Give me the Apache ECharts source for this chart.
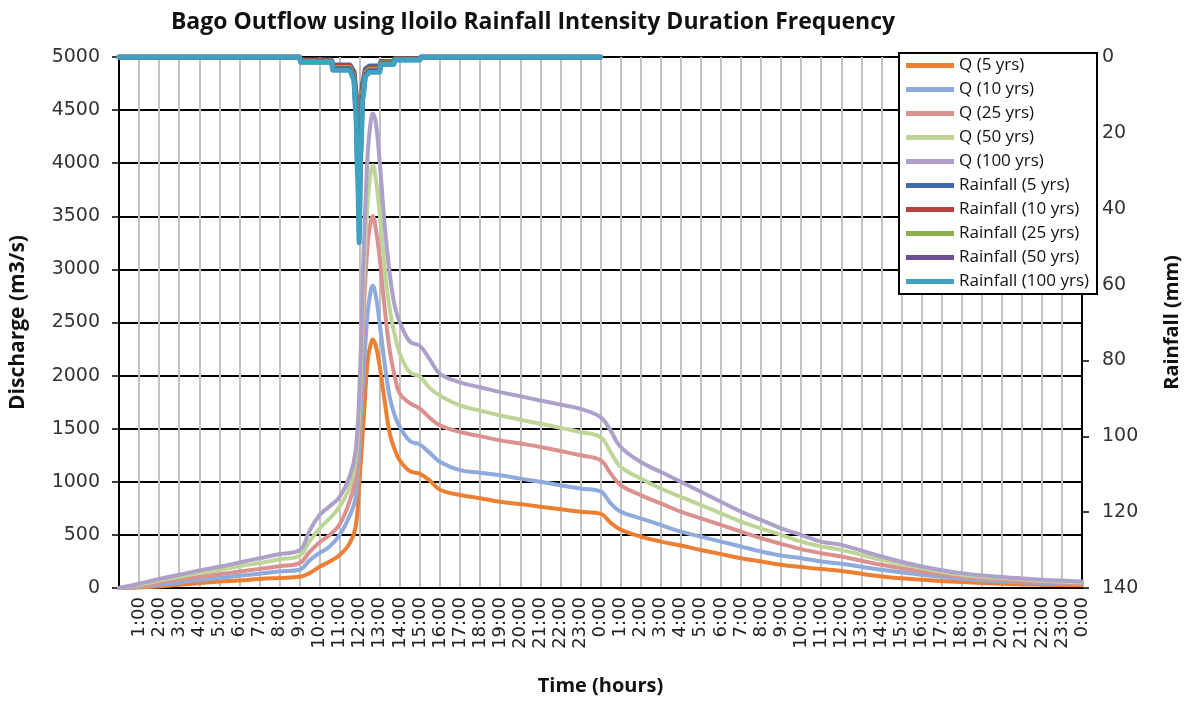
<!DOCTYPE html>
<html>
<head>
<meta charset="utf-8">
<script src="https://cdn.jsdelivr.net/npm/echarts@6/dist/echarts.min.js"></script>
<style>
  html, body { margin: 0; padding: 0; background: #ffffff; }
  #chart { width: 1190px; height: 701px; }
</style>
</head>
<body>
<div id="chart"></div>
<script>
// Hour tick labels across the two-day window (hour 0 is left unlabelled)
const timeLabels = [
  '', '1:00', '2:00', '3:00', '4:00', '5:00', '6:00', '7:00', '8:00', '9:00', '10:00', '11:00', '12:00',
  '13:00', '14:00', '15:00', '16:00', '17:00', '18:00', '19:00', '20:00', '21:00', '22:00', '23:00', '0:00',
  '1:00', '2:00', '3:00', '4:00', '5:00', '6:00', '7:00', '8:00', '9:00', '10:00', '11:00', '12:00',
  '13:00', '14:00', '15:00', '16:00', '17:00', '18:00', '19:00', '20:00', '21:00', '22:00', '23:00', '0:00'
];

// Elapsed hours of the discharge hydrograph samples
const qHours = [0, 1, 2, 3, 4, 5, 6, 7, 8, 9, 9.5, 10, 10.5, 11, 11.5, 11.8, 12, 12.2, 12.4, 12.55, 12.65, 12.8,
  13, 13.25, 13.5, 13.75, 14, 14.5, 15, 15.5, 16, 17, 18, 19, 20, 21, 22, 23, 24, 24.5, 25, 26, 27, 28, 29, 30,
  31, 32, 33, 34, 35, 36, 38, 40, 42, 44, 46, 48];

// Discharge (m3/s) per return period
const q5 = [0, 5, 15, 30, 45, 60, 70, 85, 95, 105, 140, 200, 250, 310, 420, 580, 1050, 1600, 2150, 2300, 2340, 2280,
  2080, 1750, 1450, 1300, 1200, 1100, 1075, 1010, 925, 875, 845, 812, 790, 766, 742, 719, 700, 615, 550, 484, 437, 400, 358, 319,
  281, 250, 219, 197, 178, 160, 109, 78, 56, 40, 31, 25];
const q10 = [0, 10, 30, 50, 75, 95, 115, 135, 155, 172, 260, 330, 390, 500, 680, 860, 1400, 2050, 2600, 2800, 2845, 2750,
  2480, 2100, 1790, 1620, 1516, 1385, 1350, 1270, 1187, 1110, 1085, 1062, 1030, 1000, 968, 937, 910, 800, 719, 656, 594, 531, 484, 437,
  391, 344, 306, 281, 250, 228, 172, 125, 87, 62, 47, 37];
const q25 = [0, 20, 50, 80, 105, 130, 155, 180, 205, 234, 340, 430, 500, 600, 820, 1050, 1650, 2600, 3250, 3450, 3500, 3380,
  3100, 2620, 2230, 1990, 1828, 1740, 1690, 1600, 1531, 1469, 1430, 1390, 1360, 1328, 1290, 1250, 1203, 1080, 969, 875, 797, 719, 656, 594,
  531, 469, 416, 366, 328, 297, 219, 156, 109, 78, 56, 47];
const q50 = [0, 30, 70, 105, 140, 170, 205, 235, 270, 303, 440, 560, 656, 766, 953, 1200, 1790, 2900, 3650, 3920, 3980, 3850,
  3520, 3000, 2620, 2380, 2203, 2030, 1990, 1880, 1812, 1719, 1670, 1625, 1585, 1547, 1508, 1469, 1420, 1281, 1141, 1031, 937, 859, 781, 703,
  625, 562, 500, 437, 391, 359, 265, 187, 125, 94, 69, 53];
const q100 = [0, 40, 85, 125, 165, 200, 240, 280, 320, 355, 540, 687, 770, 859, 1050, 1300, 1957, 3200, 4100, 4400, 4467, 4380,
  4000, 3400, 2950, 2650, 2500, 2320, 2280, 2150, 2016, 1937, 1890, 1844, 1805, 1766, 1727, 1687, 1609, 1484, 1328, 1187, 1094, 1000, 906, 812,
  719, 641, 562, 500, 437, 406, 297, 203, 140, 103, 78, 62];

// Elapsed hours of the rainfall hyetograph samples
const rainHours = [0, 9, 9.05, 10.6, 10.65, 11.5, 11.7, 11.8, 11.9, 11.97, 12.05, 12.15, 12.3, 12.5, 13, 13.05, 13.7, 13.75, 15, 15.05, 24];

// Rainfall (mm) per return period
const rain5 = [0, 0, 0.8, 0.8, 2.1, 2.1, 3.6, 8.4, 19, 29, 15.6, 6.6, 3, 2.4, 2.4, 1.2, 1.2, 0.5, 0.5, 0, 0];
const rain10 = [0, 0, 1, 1, 2.4, 2.4, 4.2, 9.8, 22, 34, 18, 7.7, 3.5, 2.8, 2.8, 1.4, 1.4, 0.5, 0.5, 0, 0];
const rain25 = [0, 0, 1.1, 1.1, 2.8, 2.8, 4.8, 11, 25.6, 38, 21, 8.8, 4, 3.2, 3.2, 1.6, 1.6, 0.6, 0.6, 0, 0];
const rain50 = [0, 0, 1.3, 1.3, 3.1, 3.1, 5.4, 12.6, 28.8, 43, 23.4, 9.9, 4.5, 3.6, 3.6, 1.8, 1.8, 0.7, 0.7, 0, 0];
const rain100 = [0, 0, 1.4, 1.4, 3.5, 3.5, 6, 14, 32, 49, 26, 11, 5, 4, 4, 2, 2, 0.8, 0.8, 0, 0];

const qNames = ['Q (5 yrs)', 'Q (10 yrs)', 'Q (25 yrs)', 'Q (50 yrs)', 'Q (100 yrs)'];
const rainNames = ['Rainfall (5 yrs)', 'Rainfall (10 yrs)', 'Rainfall (25 yrs)', 'Rainfall (50 yrs)', 'Rainfall (100 yrs)'];
const qColors = ['#EC7F32', '#8FAADC', '#DB918F', '#BDD597', '#ADA0C9'];
const rainColors = ['#3F6BAE', '#B5423E', '#8CB04A', '#6B4F96', '#3EA2C0'];

const pair = (xs, ys) => xs.map((x, i) => [x, ys[i]]);

const qSeries = [q5, q10, q25, q50, q100].map((vals, i) => ({
  name: qNames[i],
  type: 'line',
  yAxisIndex: 0,
  data: pair(qHours, vals),
  showSymbol: false,
  symbol: 'none',
  smooth: 0.4,
  lineStyle: { color: qColors[i], width: 4, cap: 'round', join: 'round' },
  itemStyle: { color: qColors[i] },
  z: 2
}));

const rainSeries = [rain5, rain10, rain25, rain50, rain100].map((vals, i) => ({
  name: rainNames[i],
  type: 'line',
  yAxisIndex: 1,
  data: pair(rainHours, vals),
  showSymbol: false,
  symbol: 'none',
  smooth: 0.3,
  smoothMonotone: 'x',
  lineStyle: { color: rainColors[i], width: 5, cap: 'round', join: 'round' },
  itemStyle: { color: rainColors[i] },
  z: 3
}));

const plainNumber = (v) => String(v);

const chart = echarts.init(document.getElementById('chart'), null, { renderer: 'canvas' });

chart.setOption({
  animation: false,
  backgroundColor: '#ffffff',
  title: {
    text: 'Bago Outflow using Iloilo Rainfall Intensity Duration Frequency',
    left: 528,
    top: 6,
    textAlign: 'center',
    textStyle: { fontFamily: 'Open Sans', fontWeight: 'bold', fontSize: 23, color: '#111' }
  },
  legend: {
    orient: 'vertical',
    right: 93,
    top: 53,
    backgroundColor: '#ffffff',
    borderColor: '#000000',
    borderWidth: 2,
    padding: [4, 8, 4, 7],
    icon: 'rect',
    itemWidth: 48,
    itemHeight: 5,
    itemGap: 7,
    textStyle: { fontFamily: 'Open Sans', fontSize: 17, color: '#111' },
    data: qNames.concat(rainNames)
  },
  grid: { left: 115, right: 93, top: 57, bottom: 113, containLabel: false },
  xAxis: {
    type: 'value',
    min: 0,
    max: 48,
    interval: 1,
    name: 'Time (hours)',
    nameLocation: 'middle',
    nameGap: 88,
    nameTextStyle: { fontFamily: 'Open Sans', fontWeight: 'bold', fontSize: 20, color: '#111' },
    axisLine: { show: true, lineStyle: { color: '#000', width: 2 } },
    axisTick: { show: false },
    axisLabel: {
      rotate: 90,
      margin: 9,
      fontFamily: 'DejaVu Sans',
      fontSize: 18,
      color: '#222',
      showMinLabel: true,
      showMaxLabel: true,
      formatter: (v) => timeLabels[Math.round(v)]
    },
    splitLine: { show: true, lineStyle: { color: '#C2C2C2', width: 2 } }
  },
  yAxis: [
    {
      type: 'value',
      min: 0,
      max: 5000,
      interval: 500,
      name: 'Discharge (m3/s)',
      nameLocation: 'middle',
      nameRotate: 90,
      nameGap: 90,
      nameTextStyle: { fontFamily: 'Open Sans', fontWeight: 'bold', fontSize: 21, color: '#111' },
      axisLine: { show: true, lineStyle: { color: '#000', width: 2 } },
      axisTick: { show: true, inside: false, length: 7, lineStyle: { color: '#000', width: 1.5 } },
      axisLabel: { margin: 19, fontFamily: 'DejaVu Sans', fontSize: 19, color: '#333', formatter: plainNumber },
      splitLine: { show: true, lineStyle: { color: '#000', width: 2 } }
    },
    {
      type: 'value',
      min: 0,
      max: 140,
      interval: 20,
      inverse: true,
      position: 'right',
      name: 'Rainfall (mm)',
      nameLocation: 'middle',
      nameRotate: 90,
      nameGap: 80,
      nameTextStyle: { fontFamily: 'Open Sans', fontWeight: 'bold', fontSize: 20, color: '#111' },
      axisLine: { show: true, lineStyle: { color: '#000', width: 2 } },
      axisTick: { show: true, inside: false, length: 7, lineStyle: { color: '#000', width: 1.5 } },
      axisLabel: { margin: 20, fontFamily: 'DejaVu Sans', fontSize: 19, color: '#333', formatter: plainNumber },
      splitLine: { show: false }
    }
  ],
  series: qSeries.concat(rainSeries)
});
</script>
</body>
</html>
